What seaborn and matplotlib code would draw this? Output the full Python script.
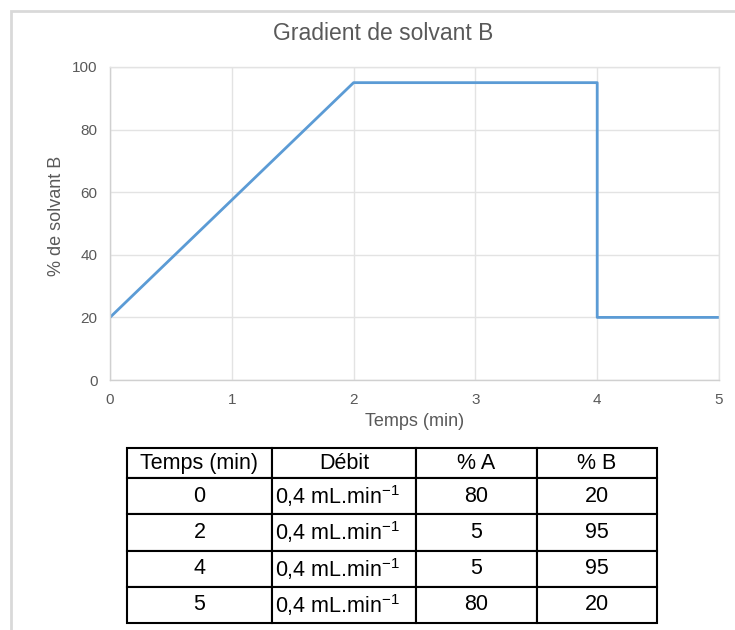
import matplotlib
matplotlib.use("Agg")
import matplotlib.pyplot as plt
import seaborn as sns
import pandas as pd
from matplotlib.patches import Rectangle

# table values
temps = [0, 2, 4, 5]
debit = ["0,4 mL.min$^{-1}$"] * 4
pct_a = [80, 5, 5, 80]
pct_b = [20, 95, 95, 20]
headers = ["Temps (min)", "Débit", "% A", "% B"]

# plotted gradient (drop back to 20 % at 4 min)
plot_time = [0, 2, 4, 4, 5]
plot_b = [20, 95, 95, 20, 20]

sns.set_style("white")
plt.rcParams["font.family"] = ["Liberation Sans", "DejaVu Sans"]
plt.rcParams["mathtext.fontset"] = "custom"
plt.rcParams["mathtext.rm"] = "Liberation Sans"
plt.rcParams["mathtext.it"] = "Liberation Sans"

W, H = 735, 630
fig = plt.figure(figsize=(W / 100, H / 100), dpi=100)

# outer frame
fig.patches.append(Rectangle((11 / W, -0.05), 1.2, 1 - 11 / H + 0.05,
                             transform=fig.transFigure, fill=False,
                             edgecolor="#d9d9d9", lw=2))

ax = fig.add_axes([110 / W, 1 - 380 / H, (719 - 110) / W, (380 - 67) / H])
df = pd.DataFrame({"t": plot_time, "b": plot_b})
sns.lineplot(data=df, x="t", y="b", ax=ax, sort=False, estimator=None,
             color="#5B9BD5", lw=2)

ax.set_xlim(0, 5)
ax.set_ylim(0, 100)
ax.set_xticks(range(0, 6))
ax.set_yticks(range(0, 101, 20))
ax.grid(True, color="#e3e3e3", lw=1)
for s in ["top", "right"]:
    ax.spines[s].set_color("#e3e3e3")
    ax.spines[s].set_linewidth(1)
for s in ["left", "bottom"]:
    ax.spines[s].set_color("#d0d0d0")
    ax.spines[s].set_linewidth(1)
ax.tick_params(length=0, colors="#595959", labelsize=11, pad=9)
ax.set_xlabel("Temps (min)", fontsize=13, color="#595959")
ax.set_ylabel("% de solvant B", fontsize=13, color="#595959")
ax.xaxis.set_label_coords((415 - 110) / (719 - 110), -(421 - 380) / (380 - 67))
ax.yaxis.set_label_coords(-(110 - 57) / (719 - 110), (380 - 216) / (380 - 67))
ax.xaxis.label.set_va("center")
ax.yaxis.label.set_va("center")
fig.text(383 / W, 1 - 33 / H, "Gradient de solvant B", ha="center", va="center",
         fontsize=16.5, color="#595959")

# table
tab_ax = fig.add_axes([127 / W, 1 - 623 / H, (657 - 127) / W, (623 - 448) / H])
tab_ax.axis("off")
cells = [[str(t), d, str(a), str(b)] for t, d, a, b in zip(temps, debit, pct_a, pct_b)]
tbl = tab_ax.table(cellText=cells, colLabels=headers, bbox=[0, 0, 1, 1],
                   cellLoc="center")
tbl.auto_set_font_size(False)
col_w = [145, 144, 121, 120]
for (r, c), cell in tbl.get_celld().items():
    cell.set_width(col_w[c])
    cell.set_height(30 if r == 0 else 36)
    cell.set_edgecolor("black")
    cell.set_linewidth(1.5)
    cell.get_text().set_fontsize(15.5)
    cell.get_text().set_color("black")
    if r > 0 and c == 1:
        cell.get_text().set_ha("left")
        cell.PAD = 0.02

fig.savefig("out.png", dpi=100)
